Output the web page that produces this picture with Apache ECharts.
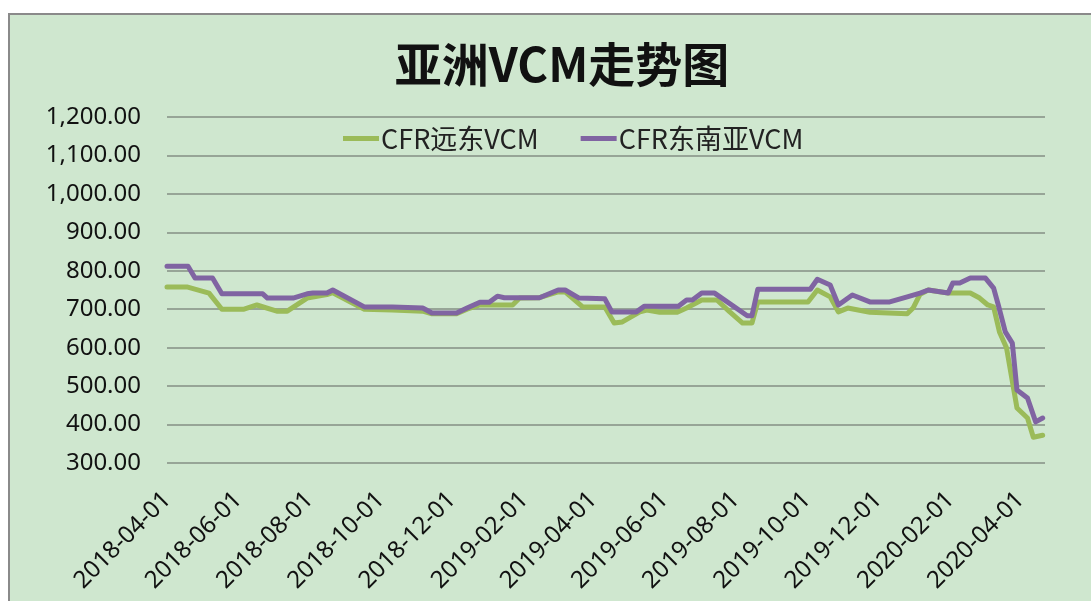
<!DOCTYPE html>
<html>
<head>
<meta charset="utf-8">
<script src="https://cdn.jsdelivr.net/npm/echarts@6/dist/echarts.min.js"></script>
<style>
html,body{margin:0;padding:0;background:#ffffff;}
#chart{width:1091px;height:601px;}
</style>
</head>
<body>
<div id="chart"></div>
<script>
const titleText = '亚洲VCM走势图';
const seriesNames = ['CFR远东VCM', 'CFR东南亚VCM'];
const xTickLabels = ['2018-04-01','2018-06-01','2018-08-01','2018-10-01','2018-12-01','2019-02-01','2019-04-01','2019-06-01','2019-08-01','2019-10-01','2019-12-01','2020-02-01','2020-04-01'];
const yTicks = [300,400,500,600,700,800,900,1000,1100,1200];

const farEastDates = ['2018-04-01','2018-04-18','2018-05-07','2018-05-18','2018-06-06','2018-06-17','2018-07-04','2018-07-13','2018-07-30','2018-08-16','2018-08-21','2018-09-17','2018-10-11','2018-11-06','2018-11-14','2018-12-05','2018-12-14','2018-12-25','2019-01-22','2019-01-28','2019-02-14','2019-03-02','2019-03-08','2019-03-23','2019-04-11','2019-04-19','2019-04-26','2019-05-11','2019-05-17','2019-05-28','2019-06-12','2019-06-20','2019-07-03','2019-07-16','2019-07-27','2019-08-07','2019-08-15','2019-08-20','2019-10-02','2019-10-10','2019-10-21','2019-10-28','2019-11-05','2019-11-24','2019-12-26','2019-12-31','2020-01-06','2020-01-13','2020-01-30','2020-02-18','2020-02-26','2020-03-04','2020-03-09','2020-03-14','2020-03-20','2020-03-29','2020-04-07','2020-04-12','2020-04-20'];
const farEastValues = [758,758,742,700,700,711,695,695,729,738,743,700,698,695,688,688,700,711,711,729,730,745,745,706,706,664,667,693,698,692,692,703,724,724,693,664,664,719,719,750,732,693,703,692,688,703,739,750,742,742,729,711,706,641,600,443,417,367,372];

const seAsiaDates = ['2018-04-01','2018-04-19','2018-04-25','2018-05-10','2018-05-18','2018-06-22','2018-06-26','2018-07-18','2018-07-30','2018-08-04','2018-08-16','2018-08-21','2018-09-17','2018-10-11','2018-11-06','2018-11-14','2018-12-05','2018-12-14','2018-12-25','2019-01-02','2019-01-09','2019-01-15','2019-02-14','2019-03-02','2019-03-08','2019-03-20','2019-04-11','2019-04-17','2019-05-08','2019-05-15','2019-06-13','2019-06-20','2019-06-25','2019-07-03','2019-07-14','2019-08-11','2019-08-15','2019-08-20','2019-10-04','2019-10-10','2019-10-21','2019-10-28','2019-11-09','2019-11-24','2019-12-11','2019-12-26','2020-01-06','2020-01-13','2020-01-30','2020-02-03','2020-02-09','2020-02-18','2020-03-02','2020-03-09','2020-03-13','2020-03-19','2020-03-25','2020-03-29','2020-04-07','2020-04-14','2020-04-20'];
const seAsiaValues = [812,812,781,781,740,740,729,729,740,742,742,750,706,706,703,690,690,703,718,718,734,730,730,750,750,729,727,693,693,708,708,724,724,742,742,683,683,752,752,778,763,711,737,719,719,732,742,750,742,768,768,781,781,755,711,641,612,490,469,407,417];

function ts(s){ const p = s.split('-'); return Date.UTC(+p[0], +p[1]-1, +p[2]); }
function pad(n){ return (n<10?'0':'')+n; }
function fmtDate(v){ const d = new Date(v); return d.getUTCFullYear()+'-'+pad(d.getUTCMonth()+1)+'-'+pad(d.getUTCDate()); }
function fmtNum(v){ return v.toFixed(2).replace(/\B(?=(\d{3})+(?!\d))/g, ','); }

const farEastData = farEastDates.map((d,i)=>[ts(d), farEastValues[i]]);
const seAsiaData = seAsiaDates.map((d,i)=>[ts(d), seAsiaValues[i]]);
const xTickValues = xTickLabels.map(ts);

const chart = echarts.init(document.getElementById('chart'), null, {renderer:'canvas'});
chart.setOption({
  backgroundColor: '#ffffff',
  animation: false,
  graphic: [{
    type: 'rect', z: -10, silent: true,
    shape: {x: 9, y: 14, width: 1100, height: 600},
    style: {fill: '#cfe7cf', stroke: '#8a8a8a', lineWidth: 2}
  }],
  title: {
    text: titleText,
    left: 557, top: 36, textAlign: 'center',
    textStyle: {fontFamily: '"Noto Sans CJK SC"', fontSize: 47, fontWeight: 'bold', color: '#111'}
  },
  legend: {
    left: 343, top: 125, padding: 0, itemGap: 42, itemWidth: 36, itemHeight: 14,
    icon: 'path://M0,5.5 L36,5.5 L36,10.5 L0,10.5 Z',
    textStyle: {fontFamily: '"Noto Sans CJK SC"', fontSize: 27, color: '#222', padding: [0,0,0,-3]},
    data: seriesNames
  },
  grid: {left: 167, right: 46, top: 117, bottom: 138},
  xAxis: {
    type: 'value',
    min: ts('2018-04-01'), max: ts('2020-04-22'),
    axisLine: {show: false},
    axisTick: {show: false},
    splitLine: {show: false},
    axisLabel: {
      customValues: xTickValues,
      rotate: 45, margin: 33,
      fontFamily: '"Noto Sans"', fontSize: 24, color: '#111',
      formatter: function(v){ return fmtDate(v); }
    }
  },
  yAxis: {
    type: 'value', min: 300, max: 1200, interval: 100,
    axisLine: {show: false}, axisTick: {show: false},
    splitLine: {lineStyle: {color: '#858f85', width: 1.5}},
    axisLabel: {margin: 26, fontFamily: '"Noto Sans"', fontSize: 24, color: '#111', formatter: fmtNum}
  },
  series: [
    {name: seriesNames[0], type: 'line', data: farEastData, symbol: 'none', color: '#9bbb59',
     lineStyle: {width: 5, color: '#9bbb59', cap: 'round', join: 'round'}},
    {name: seriesNames[1], type: 'line', data: seAsiaData, symbol: 'none', color: '#8064a2',
     lineStyle: {width: 5, color: '#8064a2', cap: 'round', join: 'round'}}
  ]
});
</script>
</body>
</html>
